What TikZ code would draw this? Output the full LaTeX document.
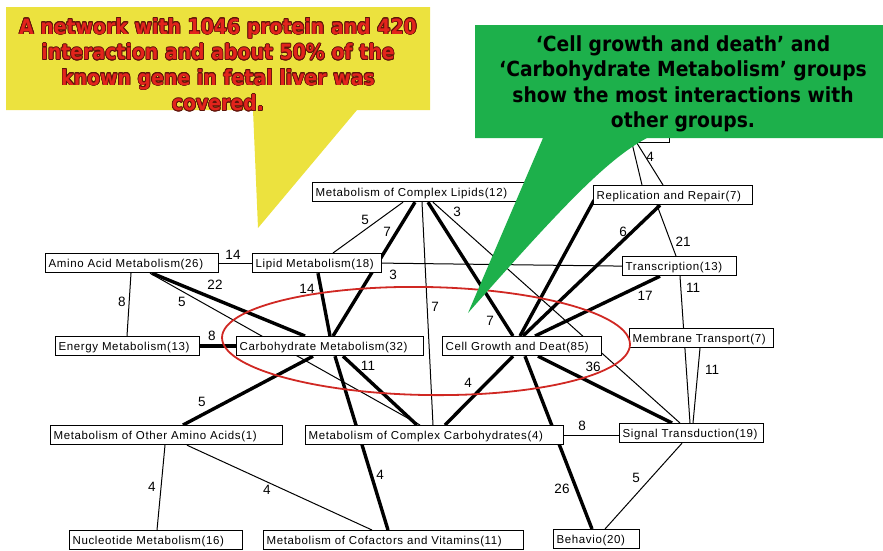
\documentclass[tikz,border=0pt]{standalone}
\usepackage{fontspec}
\setmainfont{Liberation Sans}
\newfontfamily\nodefont[LetterSpace=5.5]{Liberation Sans}
\newfontfamily\callfont[FakeStretch=0.9]{DejaVu Sans}
\usepackage[copies]{contour}
\contourlength{0.7pt}
\usetikzlibrary{calc}
\definecolor{yel}{RGB}{236,226,62}
\definecolor{grn}{RGB}{29,176,75}
\definecolor{redtxt}{RGB}{226,36,28}
\definecolor{outl}{RGB}{95,20,10}
\definecolor{ellred}{RGB}{208,40,35}
\begin{document}
\begin{tikzpicture}[x=1pt,y=-1pt,
  box/.style={draw=black, line width=1.2pt, fill=white, anchor=north west,
    inner xsep=3pt, inner ysep=0pt, minimum height=19pt,
    text height=10pt, text depth=1pt,
    font=\nodefont\fontsize{11.5}{12}\selectfont},
  thinedge/.style={line width=1pt},
  thickedge/.style={line width=3.4pt},
  lbl/.style={inner sep=0pt, font=\fontsize{13.5}{14}\selectfont},
  callout/.style={inner sep=0pt, align=center, anchor=north}]
\useasboundingbox (0,0) rectangle (883,550);

% ---------- nodes (placed first for anchors; drawn on top later) ----------
\path
 (312,182) node[box, minimum width=212pt] (cl) {\makebox[206pt][l]{Metabolism of Complex Lipids(12)}}
 (575,123) node[box, minimum width=94pt] (hid) {\makebox[88pt][l]{}}
 (593,185) node[box, minimum width=159pt] (rr) {\makebox[153pt][l]{Replication and Repair(7)}}
 (45,253) node[box, minimum width=173pt] (aa) {\makebox[167pt][l]{Amino Acid Metabolism(26)}}
 (252,253) node[box, minimum width=129pt] (lm) {\makebox[123pt][l]{Lipid Metabolism(18)}}
 (622,256) node[box, minimum width=114pt] (tr) {\makebox[108pt][l]{Transcription(13)}}
 (55,336) node[box, minimum width=144pt] (em) {\makebox[138pt][l]{Energy Metabolism(13)}}
 (236,336) node[box, minimum width=187pt] (cm) {\makebox[181pt][l]{Carbohydrate Metabolism(32)}}
 (442,336) node[box, minimum width=159pt] (cg) {\makebox[153pt][l]{Cell Growth and Deat(85)}}
 (629,328) node[box, minimum width=144pt] (mt) {\makebox[138pt][l]{Membrane Transport(7)}}
 (50,425) node[box, minimum width=232pt] (oa) {\makebox[226pt][l]{Metabolism of Other Amino Acids(1)}}
 (305,425) node[box, minimum width=258pt] (cc) {\makebox[252pt][l]{Metabolism of Complex Carbohydrates(4)}}
 (619,423) node[box, minimum width=144pt] (st) {\makebox[138pt][l]{Signal Transduction(19)}}
 (69,530) node[box, minimum width=173pt] (nm) {\makebox[167pt][l]{Nucleotide Metabolism(16)}}
 (263,530) node[box, minimum width=260pt] (cv) {\makebox[254pt][l]{Metabolism of Cofactors and Vitamins(11)}}
 (553,529) node[box, minimum width=86pt] (be) {\makebox[80pt][l]{Behavio(20)}};

% ---------- edges ----------
\draw[thinedge] (aa.east) -- (lm.west);
\draw[thinedge] ($(aa.south west)+(86,0)$) -- ($(em.north west)+(72,0)$);
\draw[thickedge] ($(aa.south west)+(107,0)$) -- ($(cm.north west)+(69,0)$);
\draw[thinedge] ($(aa.south west)+(105,0)$) -- ($(cc.north west)+(115,0)$);
\draw[thickedge] (em.east) -- (cm.west);
\draw[thickedge] ($(lm.south west)+(66,0)$) -- ($(cm.north west)+(94,0)$);
\draw[thinedge] ($(cl.south west)+(91,0)$) -- ($(lm.north west)+(81,0)$);
\draw[thickedge] ($(cl.south west)+(103,0)$) -- ($(cm.north west)+(97,0)$);
\draw[thinedge] ($(cl.south west)+(110,0)$) -- ($(cc.north west)+(128,0)$);
\draw[thickedge] ($(cl.south west)+(116,0)$) -- ($(cg.north west)+(71,0)$);
\draw[thinedge] ($(cl.south west)+(121,0)$) -- ($(st.north west)+(61,0)$);
\draw[thinedge] (lm.east) -- (tr.west);
\draw[thickedge] ($(cg.north west)+(81,0)$) -- ($(rr.south west)+(67,0)$);
\draw[thickedge] ($(cg.north west)+(78,0)$) -- ($(rr.south west)+(1,-5)$);
\draw[thickedge] ($(cg.north west)+(93,0)$) -- ($(tr.south west)+(38,0)$);
\draw[thickedge] ($(cg.south west)+(71,0)$) -- ($(cc.north west)+(140,0)$);
\draw[thickedge] ($(cg.south west)+(83,0)$) -- ($(be.north west)+(39,0)$);
\draw[thickedge] ($(cg.south west)+(96,0)$) -- ($(st.north west)+(53,0)$);
\draw[thickedge] ($(cm.south west)+(77,0)$) -- ($(oa.north west)+(133,0)$);
\draw[thickedge] ($(cm.south west)+(107,0)$) -- ($(cc.north west)+(112,0)$);
\draw[thickedge] ($(cm.south west)+(99,0)$) -- ($(cv.north west)+(125,0)$);
\draw[thinedge] ($(tr.south west)+(58,0)$) -- ($(st.north west)+(71,0)$);
\draw[thinedge] ($(mt.south west)+(71,0)$) -- ($(st.north west)+(74,0)$);
\draw[thinedge] (cc.east) -- (cc.east -| st.west);
\draw[thinedge] ($(st.south west)+(63,0)$) -- ($(be.north west)+(52,0)$);
\draw[thinedge] ($(oa.south west)+(115,0)$) -- ($(nm.north west)+(88,0)$);
\draw[thinedge] ($(oa.south west)+(137,0)$) -- ($(cv.north west)+(109,0)$);
\draw[thinedge] ($(hid.south west)+(57,0)$) -- ($(rr.north west)+(49,0)$);
\draw[thinedge] ($(hid.south west)+(62,0)$) -- ($(rr.north west)+(70,0)$);
\draw[thinedge] ($(rr.south west)+(64,0)$) -- ($(tr.north west)+(54,0)$);

% ---------- boxes on top of edges ----------
\path
 (312,182) node[box, minimum width=212pt] {\makebox[206pt][l]{Metabolism of Complex Lipids(12)}}
 (575,123) node[box, minimum width=94pt] {\makebox[88pt][l]{}}
 (593,185) node[box, minimum width=159pt] {\makebox[153pt][l]{Replication and Repair(7)}}
 (45,253) node[box, minimum width=173pt] {\makebox[167pt][l]{Amino Acid Metabolism(26)}}
 (252,253) node[box, minimum width=129pt] {\makebox[123pt][l]{Lipid Metabolism(18)}}
 (622,256) node[box, minimum width=114pt] {\makebox[108pt][l]{Transcription(13)}}
 (55,336) node[box, minimum width=144pt] {\makebox[138pt][l]{Energy Metabolism(13)}}
 (236,336) node[box, minimum width=187pt] {\makebox[181pt][l]{Carbohydrate Metabolism(32)}}
 (442,336) node[box, minimum width=159pt] {\makebox[153pt][l]{Cell Growth and Deat(85)}}
 (629,328) node[box, minimum width=144pt] {\makebox[138pt][l]{Membrane Transport(7)}}
 (50,425) node[box, minimum width=232pt] {\makebox[226pt][l]{Metabolism of Other Amino Acids(1)}}
 (305,425) node[box, minimum width=258pt] {\makebox[252pt][l]{Metabolism of Complex Carbohydrates(4)}}
 (619,423) node[box, minimum width=144pt] {\makebox[138pt][l]{Signal Transduction(19)}}
 (69,530) node[box, minimum width=173pt] {\makebox[167pt][l]{Nucleotide Metabolism(16)}}
 (263,530) node[box, minimum width=260pt] {\makebox[254pt][l]{Metabolism of Cofactors and Vitamins(11)}}
 (553,529) node[box, minimum width=86pt] {\makebox[80pt][l]{Behavio(20)}};

% ---------- edge labels ----------
\node[lbl] (l01) at (233,255) {14};
\node[lbl] (l02) at (122,302) {8};
\node[lbl] (l03) at (215,285) {22};
\node[lbl] (l04) at (182,302) {5};
\node[lbl] (l05) at (212,336) {8};
\node[lbl] (l06) at (307,289) {14};
\node[lbl] (l07) at (365,220) {5};
\node[lbl] (l08) at (387,232) {7};
\node[lbl] (l09) at (393,275) {3};
\node[lbl] (l10) at (435,307) {7};
\node[lbl] (l11) at (457,212) {3};
\node[lbl] (l12) at (490,321) {7};
\node[lbl] (l13) at (623,232) {6};
\node[lbl] (l14) at (645,296) {17};
\node[lbl] (l15) at (468,383) {4};
\node[lbl] (l16) at (593,367) {36};
\node[lbl] (l17) at (562,489) {26};
\node[lbl] (l18) at (368,366) {11};
\node[lbl] (l19) at (202,402) {5};
\node[lbl] (l20) at (380,475) {4};
\node[lbl] (l21) at (683,242) {21};
\node[lbl] (l22) at (693,288) {11};
\node[lbl] (l23) at (712,370) {11};
\node[lbl] (l24) at (582,426) {8};
\node[lbl] (l25) at (636,478) {5};
\node[lbl] (l26) at (152,487) {4};
\node[lbl] (l27) at (267,490) {4};
\node[lbl] (l28) at (650,157) {4};

% ---------- red ellipse ----------
\draw[ellred, line width=1.8pt, rotate around={-1:(426,341)}] (426,341) ellipse [x radius=204, y radius=54];

% ---------- yellow callout ----------
\fill[yel] (6,7) -- (430,7) -- (430,110) -- (357,110) -- (258,228) -- (253,110) -- (6,110) -- cycle;
\node[callout, text=redtxt, font=\callfont\bfseries\fontsize{21}{25.5}\selectfont] (ytext) at (218,18)
 {\contour{outl}{A network with 1046 protein and 420}\\
  \contour{outl}{interaction and about 50\% of the}\\
  \contour{outl}{known gene in fetal liver was}\\
  \contour{outl}{covered.}};

% ---------- green callout ----------
\fill[grn] (475,25) -- (883,25) -- (883,138) -- (647,138)
  .. controls (605,160) and (555,215) .. (468,313) -- (543,138) -- (475,138) -- cycle;
\node[callout, text=black, font=\callfont\bfseries\fontsize{20.8}{25.5}\selectfont] (gtext) at (683,35)
 {‘Cell growth and death’ and\\
  ‘Carbohydrate Metabolism’ groups\\
  show the most interactions with\\
  other groups.};
\end{tikzpicture}
\end{document}
